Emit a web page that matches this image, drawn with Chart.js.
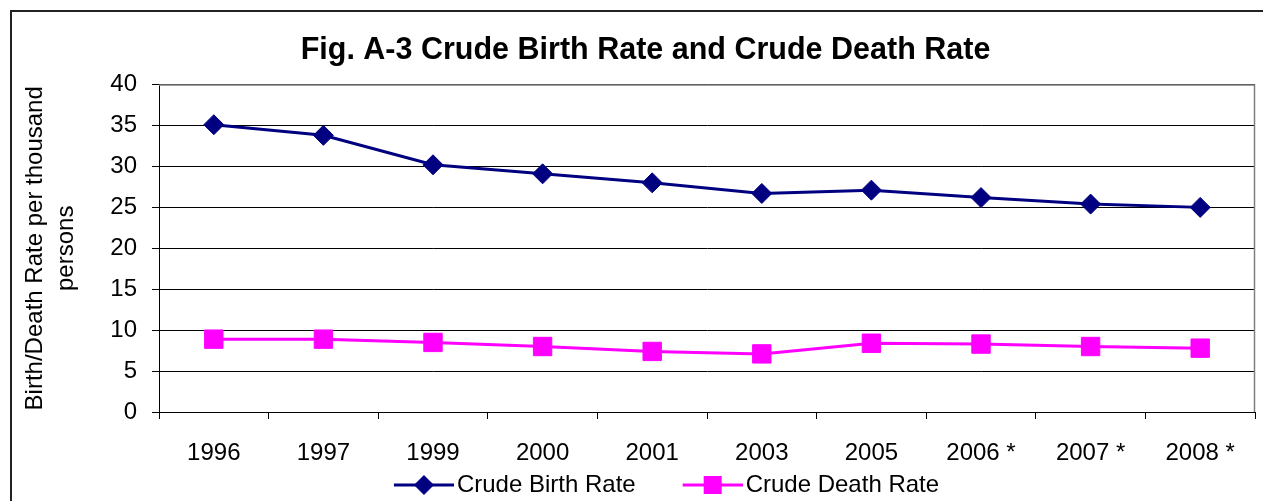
<!DOCTYPE html>
<html>
<head>
<meta charset="utf-8">
<script src="https://cdn.jsdelivr.net/npm/chart.js@4.4.1/dist/chart.umd.min.js"></script>
<style>
    html, body { margin: 0; padding: 0; background: #fff; overflow: hidden; }
    #frame { position: absolute; left: 10px; top: 10px; width: 1300px; height: 520px;
             border-left: 2px solid #222; border-top: 2px solid #222; }
    #myChart { display: block; }
</style>
</head>
<body>
<div id="frame"><canvas id="myChart" width="1270" height="495"></canvas></div>
<script>
// Dados
const years = ['1996', '1997', '1999', '2000', '2001', '2003', '2005', '2006 *', '2007 *', '2008 *'];
const birthRate = [35.1, 33.8, 30.2, 29.1, 28.0, 26.7, 27.1, 26.2, 25.4, 25.0];
const deathRate = [8.9, 8.9, 8.5, 8.0, 7.4, 7.1, 8.4, 8.3, 8.0, 7.8];
const yMin = 0, yMax = 40, yStep = 5;

Chart.defaults.font.family = '"Liberation Sans", Arial, sans-serif';
Chart.defaults.color = '#000';

// icone da legenda: espaço transparente à esquerda, depois linha com marcador
function legendIcon(color, shape) {
    const c = document.createElement('canvas');
    c.width = 111; c.height = 24;
    const g = c.getContext('2d');
    g.strokeStyle = color;
    g.lineWidth = 3;
    g.beginPath(); g.moveTo(51, 12); g.lineTo(111, 12); g.stroke();
    g.fillStyle = color;
    g.beginPath();
    if (shape === 'diamond') {
        g.moveTo(81, 2); g.lineTo(91, 12); g.lineTo(81, 22); g.lineTo(71, 12); g.closePath();
    } else {
        g.rect(72, 3, 18, 18);
    }
    g.fill();
    return c;
}
const icons = [legendIcon('#000080', 'diamond'), legendIcon('#FF00FF', 'square')];

// borda cinza em cima e à direita da área do gráfico
const plotBorder = {
    id: 'plotBorder',
    beforeDatasetsDraw(chart) {
        const { ctx, chartArea: a } = chart;
        ctx.save();
        ctx.strokeStyle = '#808080';
        ctx.lineWidth = 1.5;
        ctx.beginPath();
        ctx.moveTo(a.left, a.top + 0.5);
        ctx.lineTo(a.right - 0.5, a.top + 0.5);
        ctx.lineTo(a.right - 0.5, a.bottom);
        ctx.stroke();
        ctx.restore();
    }
};

const ctx = document.getElementById('myChart').getContext('2d');
const myChart = new Chart(ctx, {
    type: 'line',
    data: {
        labels: years,
        datasets: [{
            label: 'Crude Birth Rate',
            data: birthRate,
            borderColor: '#000080',
            backgroundColor: '#000080',
            borderWidth: 3,
            pointStyle: 'rectRot',
            pointRadius: 10,
            pointBorderWidth: 1
        }, {
            label: 'Crude Death Rate',
            data: deathRate,
            borderColor: '#FF00FF',
            backgroundColor: '#FF00FF',
            borderWidth: 3,
            pointStyle: 'rect',
            pointRadius: 13,
            pointBorderWidth: 1
        }]
    },
    options: {
        responsive: false,
        animation: false,
        layout: { padding: { left: 24, right: 27, top: 0, bottom: 0 } },
        plugins: {
            title: {
                display: true,
                text: 'Fig. A-3 Crude Birth Rate and Crude Death Rate',
                font: { size: 30.5, weight: 'bold' },
                color: '#000',
                padding: { top: 20, bottom: 16 }
            },
            legend: {
                position: 'bottom',
                labels: {
                    font: { size: 24 },
                    color: '#000',
                    usePointStyle: true,
                    pointStyleWidth: 93,
                    padding: 5,
                    generateLabels: chart => chart.data.datasets.map((ds, i) => ({
                        text: ds.label,
                        pointStyle: icons[i],
                        fillStyle: ds.borderColor,
                        strokeStyle: ds.borderColor,
                        lineWidth: 0,
                        hidden: false,
                        datasetIndex: i
                    }))
                }
            },
            tooltip: { enabled: false }
        },
        scales: {
            x: {
                offset: true,
                grid: { offset: true, drawOnChartArea: false, tickLength: 7, color: '#000' },
                border: { color: '#000', width: 1 },
                ticks: { font: { size: 24 }, color: '#000', padding: 20, maxRotation: 0, autoSkip: false },
                afterFit: s => { s.height = 56; }
            },
            y: {
                min: yMin,
                max: yMax,
                ticks: { stepSize: yStep, font: { size: 24 }, color: '#000', padding: 15 },
                grid: { color: '#000', tickLength: 7 },
                border: { color: '#000', width: 1 },
                title: {
                    display: true,
                    text: ['Birth/Death Rate per thousand', 'persons'],
                    font: { size: 24, lineHeight: 1.3 },
                    color: '#000',
                    padding: { top: -16.6, bottom: 0 }
                },
                afterFit: s => { s.width = 123; }
            }
        }
    },
    plugins: [plotBorder]
});
</script>
</body>
</html>
